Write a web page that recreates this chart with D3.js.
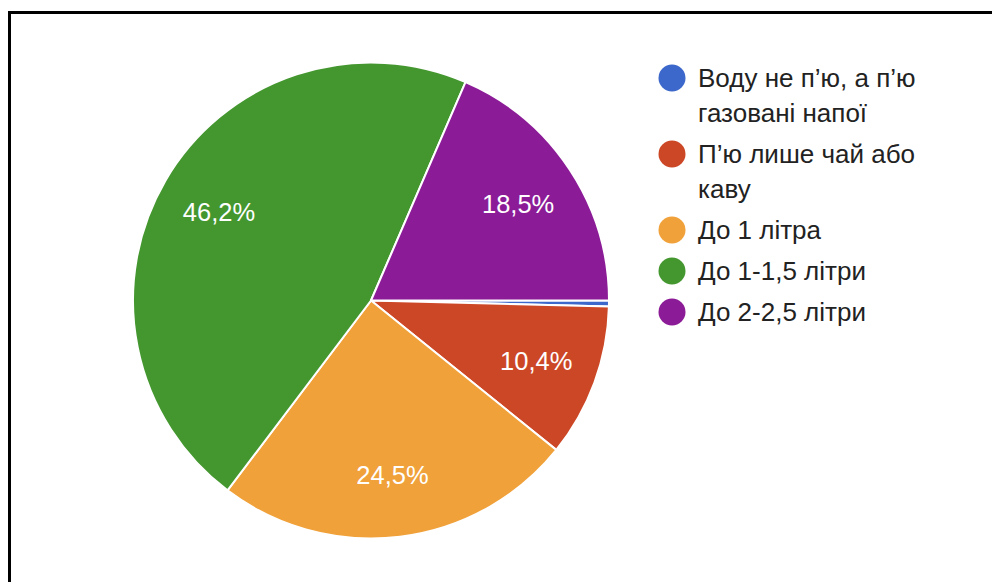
<!DOCTYPE html>
<html>
<head>
<meta charset="utf-8">
<script src="https://cdn.jsdelivr.net/npm/d3@7"></script>
<style>
  html, body { margin: 0; padding: 0; background: #fff; }
  svg { display: block; }
</style>
</head>
<body>
<svg id="chart" width="992" height="582"></svg>
<script>
// Survey answers: how much water people drink per day
const categories = [
  "Воду не п’ю, а п’ю газовані напої",
  "П’ю лише чай або каву",
  "До 1 літра",
  "До 1-1,5 літри",
  "До 2-2,5 літри"
];
const values = [0.4, 10.4, 24.5, 46.2, 18.5];
const colors = ["#3c67cb", "#cc4726", "#f0a139", "#44972f", "#8c1b97"];
// Legend entries wrapped onto lines
const legendLines = [
  ["Воду не п’ю, а п’ю", "газовані напої"],
  ["П’ю лише чай або", "каву"],
  ["До 1 літра"],
  ["До 1-1,5 літри"],
  ["До 2-2,5 літри"]
];

const svg = d3.select("#chart");
const font = "'Liberation Sans', Arial, Helvetica, sans-serif";

// Frame
svg.append("rect")
  .attr("x", 9.5).attr("y", 12.5)
  .attr("width", 1100).attr("height", 700)
  .attr("fill", "none")
  .attr("stroke", "#000")
  .attr("stroke-width", 3);

const cx = 371, cy = 300.5, radius = 238;

const data = categories.map((c, i) => ({ name: c, value: values[i], color: colors[i] }));

const pie = d3.pie()
  .value(d => d.value)
  .sort(null)
  .startAngle(Math.PI / 2)
  .endAngle(Math.PI / 2 + 2 * Math.PI);

const arc = d3.arc().innerRadius(0).outerRadius(radius);
const labelArc = d3.arc().innerRadius(176).outerRadius(176);

const g = svg.append("g").attr("transform", `translate(${cx},${cy})`);
const arcs = pie(data);

g.selectAll("path.slice")
  .data(arcs)
  .join("path")
  .attr("class", "slice")
  .attr("d", arc)
  .attr("fill", d => d.data.color)
  .attr("stroke", "#fff")
  .attr("stroke-width", 2)
  .attr("stroke-linejoin", "round");

const fmt = v => d3.format(".1f")(v).replace(".", ",") + "%";

g.selectAll("text.pct")
  .data(arcs.filter(d => d.data.value >= 5))
  .join("text")
  .attr("class", "pct")
  .attr("transform", d => {
    const [x, y] = labelArc.centroid(d);
    return `translate(${x},${y})`;
  })
  .attr("text-anchor", "middle")
  .attr("dy", "0.35em")
  .attr("fill", "#fff")
  .style("font-family", font)
  .style("font-size", "25.5px")
  .text(d => fmt(d.data.value));

// Legend
const legend = svg.append("g");
const lx = 672, tx = 698, lineH = 35, itemGap = 41;
let baseY = 87;
legendLines.forEach((lines, i) => {
  legend.append("circle")
    .attr("cx", lx).attr("cy", baseY - 9)
    .attr("r", 13.5)
    .attr("fill", colors[i]);
  lines.forEach((ln, j) => {
    legend.append("text")
      .attr("x", tx).attr("y", baseY + j * lineH)
      .attr("fill", "#222")
      .style("font-family", font)
      .style("font-size", "26px")
      .text(ln);
  });
  baseY += (lines.length - 1) * lineH + itemGap;
});
</script>
</body>
</html>
